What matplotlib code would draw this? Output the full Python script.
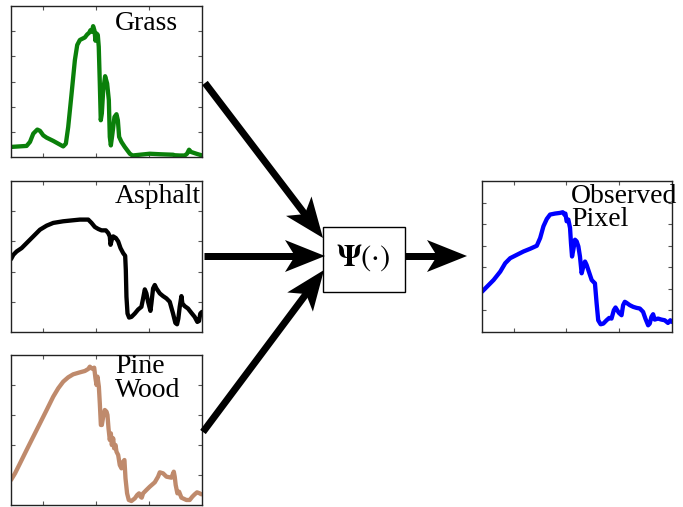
import matplotlib
matplotlib.use("Agg")
import matplotlib.pyplot as plt
from matplotlib.patches import Polygon, Rectangle
import numpy as np

plt.rcParams['mathtext.fontset'] = 'stix'

# ---------------- data (band index vs reflectance) ----------------
grass_x = [20.0, 34.7, 37.9, 41.0, 44.8, 47.3, 50.4, 53.5, 59.8, 64.5, 69.2, 71.7, 73.9, 77.1,
           80.2, 82.4, 84.9, 89.6, 91.8, 93.7, 94.9, 96.2, 97.4, 98.7, 99.6, 100.6, 101.8, 102.7,
           103.7, 104.6, 105.6, 106.9, 108.7, 110.6, 112.2, 113.1, 114.1, 115.6, 117.5, 119.4,
           120.7, 121.9, 124.1, 127.2, 132.0, 134.5, 141.4, 150.8, 160.2, 172.7, 174.3, 179.0,
           183.7, 185.9, 187.8, 189.7, 194.7, 199.4]
grass_y = [0.040, 0.044, 0.060, 0.093, 0.109, 0.104, 0.086, 0.077, 0.064, 0.053, 0.042, 0.053,
           0.119, 0.252, 0.385, 0.445, 0.465, 0.475, 0.487, 0.494, 0.504, 0.498, 0.520, 0.502,
           0.462, 0.491, 0.485, 0.438, 0.292, 0.146, 0.173, 0.265, 0.321, 0.292, 0.226, 0.080,
           0.046, 0.093, 0.159, 0.170, 0.146, 0.080, 0.060, 0.040, 0.013, 0.006, 0.009, 0.013,
           0.011, 0.009, 0.007, 0.006, 0.006, 0.013, 0.029, 0.020, 0.013, 0.007]

asphalt_x = [20.0, 22.2, 25.3, 30.0, 34.7, 41.0, 47.3, 53.6, 59.8, 69.2, 78.6, 84.9, 92.8, 95.9,
             99.0, 102.2, 105.3, 109.4, 111.6, 113.1, 113.8, 115.0, 116.3, 118.8, 121.0, 123.2,
             125.7, 127.6, 128.2, 128.8, 129.8, 131.3, 133.5, 136.7, 139.8, 142.9, 144.5, 146.1,
             147.6, 149.2, 151.4, 152.3, 153.9, 155.5, 157.0, 160.2, 163.3, 166.5, 169.6, 172.7,
             174.9, 176.5, 177.7, 179.0, 180.6, 181.5, 183.7, 186.8, 190.0, 193.1, 195.6, 197.2,
             198.4, 200.0]
asphalt_y = [0.1206, 0.1278, 0.1333, 0.1389, 0.1472, 0.1583, 0.1694, 0.1761, 0.1806, 0.1833,
             0.1850, 0.1861, 0.1861, 0.1806, 0.1739, 0.1706, 0.1683, 0.1683, 0.1639, 0.1583,
             0.1444, 0.1528, 0.1583, 0.1556, 0.1500, 0.1389, 0.1306, 0.1261, 0.1028, 0.0583,
             0.0306, 0.0239, 0.0250, 0.0306, 0.0372, 0.0417, 0.0556, 0.0706, 0.0639, 0.0500,
             0.0350, 0.0472, 0.0722, 0.0778, 0.0722, 0.0639, 0.0594, 0.0556, 0.0500, 0.0306,
             0.0150, 0.0128, 0.0222, 0.0417, 0.0594, 0.0472, 0.0428, 0.0389, 0.0317, 0.0250,
             0.0167, 0.0183, 0.0306, 0.0333]

pine_x = [20.0, 23.8, 28.5, 34.7, 41.0, 47.3, 53.6, 59.8, 64.5, 69.2, 73.9, 78.6, 84.9, 89.6,
          92.8, 94.3, 95.9, 97.5, 98.4, 99.6, 100.6, 101.5, 102.8, 103.7, 104.7, 105.6, 106.9,
          108.4, 110.0, 110.9, 111.9, 113.1, 114.1, 115.0, 116.3, 117.2, 118.5, 119.4, 121.0,
          122.5, 124.1, 125.7, 126.9, 127.9, 129.4, 131.0, 133.5, 136.7, 138.9, 140.7, 142.0,
          143.2, 144.5, 147.6, 150.8, 155.5, 158.6, 160.2, 163.3, 166.5, 171.2, 173.4, 174.3,
          175.2, 176.8, 178.4, 180.6, 185.3, 188.4, 190.9, 193.1, 195.3, 197.8, 199.4]
pine_y = [0.0833, 0.1056, 0.1389, 0.1833, 0.2278, 0.2722, 0.3167, 0.3611, 0.3889, 0.4111,
          0.4256, 0.4356, 0.4422, 0.4467, 0.4533, 0.4611, 0.4556, 0.4533, 0.4578, 0.4222,
          0.4000, 0.4278, 0.3944, 0.3389, 0.2667, 0.2667, 0.2944, 0.3167, 0.3111, 0.3000,
          0.2556, 0.2167, 0.2389, 0.2000, 0.2222, 0.1889, 0.2000, 0.1778, 0.1667, 0.1333,
          0.1222, 0.1444, 0.1500, 0.0889, 0.0389, 0.0167, 0.0133, 0.0222, 0.0333, 0.0389,
          0.0278, 0.0244, 0.0389, 0.0500, 0.0611, 0.0756, 0.0944, 0.1089, 0.1056, 0.0944,
          0.0911, 0.1111, 0.0944, 0.0667, 0.0389, 0.0444, 0.0244, 0.0167, 0.0167, 0.0278,
          0.0356, 0.0422, 0.0389, 0.0356]

obs_x = [20.0, 24.7, 31.0, 37.3, 42.0, 46.7, 53.0, 59.3, 65.6, 71.9, 75.1, 78.2, 81.4, 84.5,
         89.2, 94.0, 96.5, 98.0, 99.0, 100.2, 101.8, 103.4, 104.3, 105.3, 106.5, 108.1, 109.7,
         111.3, 112.8, 114.4, 116.0, 117.6, 119.1, 120.7, 122.3, 123.9, 125.4, 127.0, 128.6,
         130.1, 132.4, 134.9, 138.0, 140.5, 142.7, 144.9, 146.5, 148.1, 149.7, 152.2, 153.7,
         155.3, 156.9, 160.0, 163.2, 166.3, 169.5, 172.6, 174.8, 177.4, 178.9, 180.5, 182.1,
         183.6, 186.8, 189.9, 193.1, 196.2, 198.4, 200.0]
obs_y = [0.1867, 0.2100, 0.2411, 0.2800, 0.3189, 0.3422, 0.3578, 0.3733, 0.3858, 0.3998,
         0.4356, 0.4900, 0.5242, 0.5444, 0.5491, 0.5522, 0.5553, 0.5444, 0.5491, 0.5133,
         0.5211, 0.4822, 0.4122, 0.3500, 0.3811, 0.4278, 0.4200, 0.3967, 0.3500, 0.2722,
         0.3033, 0.3267, 0.3111, 0.2878, 0.2644, 0.2411, 0.2333, 0.2256, 0.1322, 0.0544,
         0.0358, 0.0389, 0.0544, 0.0653, 0.0622, 0.1011, 0.1136, 0.1011, 0.0887, 0.0778,
         0.1244, 0.1400, 0.1353, 0.1244, 0.1167, 0.1120, 0.1089, 0.0933, 0.0622, 0.0311,
         0.0389, 0.0700, 0.0824, 0.0576, 0.0622, 0.0576, 0.0544, 0.0420, 0.0544, 0.0467]

x_ticks = [50, 100, 150]

W, H = 683, 507
fig = plt.figure(figsize=(W / 100, H / 100), dpi=100)


def px_axes(x0, y0, x1, y1):
    return fig.add_axes([x0 / W, 1 - y1 / H, (x1 - x0) / W, (y1 - y0) / H])


def panel(rect, xs, ys, color, ymax, yticks):
    ax = px_axes(*rect)
    ax.plot(xs, ys, color=color, lw=3.1, solid_joinstyle='round', solid_capstyle='round')
    ax.set_xlim(20, 200)
    ax.set_ylim(0, ymax)
    ax.set_xticks(x_ticks)
    ax.set_yticks(yticks)
    ax.tick_params(direction='in', length=3, width=0.8, color='#555555',
                   top=True, right=True, labelbottom=False, labelleft=False)
    for s in ax.spines.values():
        s.set_linewidth(1.0)
        s.set_color('#222222')
    return ax


panel((11, 6, 202, 157), grass_x, grass_y, '#0a800a', 0.6, [0.1, 0.2, 0.3, 0.4, 0.5])
panel((11, 181, 202, 332), asphalt_x, asphalt_y, '#000000', 0.25, [0.05, 0.1, 0.15, 0.2])
panel((11, 355, 202, 505), pine_x, pine_y, '#bf8a6c', 0.5, [0.1, 0.2, 0.3, 0.4])
panel((482, 181, 672, 332), obs_x, obs_y, '#0000ff', 0.7, [0.1, 0.2, 0.3, 0.4, 0.5, 0.6])

# overlay in pixel coordinates
ov = fig.add_axes([0, 0, 1, 1], zorder=5)
ov.set_xlim(0, W)
ov.set_ylim(H, 0)
ov.axis('off')
ov.patch.set_alpha(0)


def arrow(x0, y0, x1, y1, L=40, hw=16, notch=10, lw=7):
    d = np.array([x1 - x0, y1 - y0], float)
    n = np.hypot(*d)
    u = d / n
    p = np.array([-u[1], u[0]])
    tip = np.array([x1, y1], float)
    back = tip - u * L
    notchp = tip - u * (L - notch)
    ov.plot([x0, notchp[0] + u[0] * 2], [y0, notchp[1] + u[1] * 2], color='k',
            lw=lw * 0.72, solid_capstyle='butt')
    poly = [tip, back + p * hw, notchp, back - p * hw]
    ov.add_patch(Polygon(poly, closed=True, color='k', lw=0))


arrow(205, 83, 323, 238)
arrow(204, 256, 325, 256)
arrow(203, 432, 324, 270)
arrow(405, 256, 467, 256)

ov.add_patch(Rectangle((323, 227), 82, 65, fill=False, ec='k', lw=1.0))
ov.text(363, 266, r'$\mathbf{\Psi}(\cdot)$', fontsize=22, ha='center', va='baseline')

tkw = dict(family='Liberation Serif', fontsize=20, ha='left', va='baseline')
ov.text(115, 30, 'Grass', **tkw)
ov.text(115, 203, 'Asphalt', **tkw)
ov.text(115, 373, 'Pine', **tkw)
ov.text(115, 397, 'Wood', **tkw)
ov.text(571, 203, 'Observed', **tkw)
ov.text(571, 226, 'Pixel', **tkw)

fig.savefig('out.png', dpi=100)
